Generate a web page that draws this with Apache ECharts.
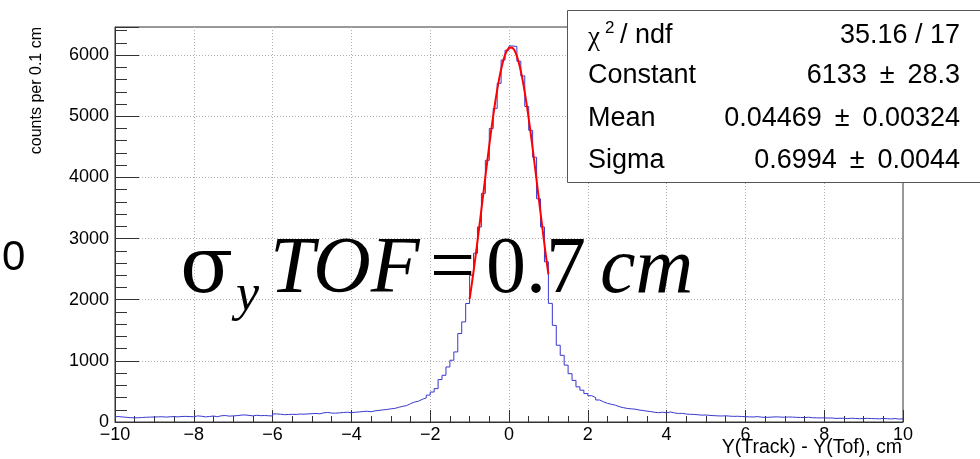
<!DOCTYPE html>
<html>
<head>
<meta charset="utf-8">
<script src="https://cdn.jsdelivr.net/npm/echarts@6/dist/echarts.min.js"></script>
<style>
  html, body { margin: 0; padding: 0; background: #ffffff; }
  #chart { width: 980px; height: 459px; }
</style>
</head>
<body>
<div id="chart"></div>
<script>
// Histogram of Y(Track) - Y(Tof): 200 bins of 0.1 cm between -10 and 10 cm
const xRange = [-10, 10];
const binWidth = 0.1;
const countsPerBin = [
  88, 82, 76, 70, 68, 70, 74, 78, 80, 82,            // -10 .. -9
  84, 86, 80, 86, 88, 84, 90, 92, 88, 86,            // -9 .. -8
  100, 94, 84, 90, 98, 86, 102, 106, 96, 100,        // -8 .. -7
  104, 112, 116, 108, 100, 110, 104, 106, 102, 98,   // -7 .. -6
  132, 128, 120, 122, 126, 124, 130, 128, 132, 136,  // -6 .. -5
  140, 134, 150, 156, 146, 144, 150, 156, 160, 152,  // -5 .. -4
  160, 165, 172, 176, 168, 182, 190, 198, 205, 215,  // -4 .. -3
  222, 240, 256, 268, 300, 326, 340, 372, 392, 440,  // -3 .. -2
  490, 546, 694, 764, 900, 1010, 1146, 1447, 1637, 1938,      // -2 .. -1
  2400, 2760, 3190, 3740, 4280, 4800, 5130, 5540, 5920, 6080, // -1 .. 0
  6150, 6140, 5900, 5660, 5160, 4770, 4330, 3650, 3190, 2620, // 0 .. 1
  1940, 1580, 1255, 1090, 930, 790, 680, 575, 520, 465,       // 1 .. 2
  430, 400, 360, 330, 305, 290, 275, 250, 235, 222,  // 2 .. 3
  215, 210, 196, 188, 178, 170, 158, 152, 160, 150,  // 3 .. 4
  164, 148, 140, 142, 130, 126, 124, 118, 112, 114,  // 4 .. 5
  108, 104, 100, 98, 102, 96, 92, 94, 90, 86,        // 5 .. 6
  84, 82, 88, 80, 76, 78, 82, 84, 80, 78,            // 6 .. 7
  82, 80, 76, 74, 72, 78, 70, 68, 66, 68,            // 7 .. 8
  64, 66, 58, 62, 60, 56, 62, 58, 54, 56,            // 8 .. 9
  60, 56, 54, 52, 58, 54, 50, 56, 48, 52             // 9 .. 10
];

// Gaussian fit result
const fitConstant = 6133;
const fitMean = 0.04469;
const fitSigma = 0.6994;
const fitRange = [-1.0, 1.0];

// Stats box rows (thin spaces widen the gaps around the ± sign)
const statNames = ['/ ndf', 'Constant', 'Mean', 'Sigma'];
const statValues = ['35.16 / 17', '6133 \u2009\u00b1\u2009 28.3', '0.04469 \u2009\u00b1\u2009 0.00324', '0.6994 \u2009\u00b1\u2009 0.0044'];

const yMax = 6460;
const xTickStep = 2;
const yTickStep = 1000;
const xTitle = 'Y(Track) - Y(Tof), cm';
const yTitle = 'counts per 0.1 cm';

// histogram outline: left edge of each bin, closed at the upper edge
const histPoints = countsPerBin.map((c, i) => [xRange[0] + i * binWidth, c]);
histPoints.push([xRange[1], countsPerBin[countsPerBin.length - 1]]);

// fitted Gaussian over the fit range
const fitPoints = [];
const nFit = 120;
for (let i = 0; i <= nFit; i++) {
  const x = fitRange[0] + (fitRange[1] - fitRange[0]) * i / nFit;
  const z = (x - fitMean) / fitSigma;
  fitPoints.push([x, fitConstant * Math.exp(-0.5 * z * z)]);
}

const axisColor = '#333333';
const sans = '"Liberation Sans", Arial, Helvetica, sans-serif';
const serif = '"Liberation Serif", "Times New Roman", serif';

const fmtNum = v => (v < 0 ? '\u2212' + Math.abs(v) : String(v));

const chart = echarts.init(document.getElementById('chart'), null, { renderer: 'canvas' });

// big annotation pieces are placed by their top edge
const annTop = 231;
const graphics = [
  // stray "0" at the left border
  { type: 'text', z: 10, style: { x: 2, y: 258, text: '0', fontSize: 42, fontFamily: sans, fill: '#000', verticalAlign: 'middle' } },
  // axis titles
  { type: 'text', z: 10, style: { x: 902, y: 448, text: xTitle, fontSize: 19.5, fontFamily: sans, fill: '#000', align: 'right', verticalAlign: 'middle' } },
  { type: 'text', z: 10, x: 37, y: 27, rotation: Math.PI / 2,
    style: { x: 0, y: 0, text: yTitle, fontSize: 16, fontFamily: sans, fill: '#000', align: 'right', verticalAlign: 'middle' } },
  // annotation sigma_y TOF = 0.7 cm
  { type: 'text', z: 10, style: { x: 180, y: annTop + 2, text: '\u03c3', fontSize: 78, fontFamily: '"DejaVu Serif", serif', fill: '#000', verticalAlign: 'top' } },
  { type: 'text', z: 10, style: { x: 236, y: 270, text: 'y', fontSize: 52, fontStyle: 'italic', fontFamily: serif, fill: '#000', verticalAlign: 'top' } },
  { type: 'text', z: 10, style: { x: 270, y: annTop, text: 'TOF', fontSize: 80, fontStyle: 'italic', fontFamily: serif, fill: '#000', verticalAlign: 'top' } },
  { type: 'text', z: 10, style: { x: 430, y: annTop, text: '=', fontSize: 80, fontFamily: serif, fill: '#000', verticalAlign: 'top' } },
  { type: 'text', z: 10, style: { x: 486, y: annTop, text: '0.7', fontSize: 80, fontFamily: serif, fill: '#000', verticalAlign: 'top' } },
  { type: 'text', z: 10, style: { x: 600, y: annTop, text: 'cm', fontSize: 80, fontStyle: 'italic', fontFamily: serif, fill: '#000', verticalAlign: 'top' } },
  // stats box
  { type: 'rect', z: 20, shape: { x: 567.5, y: 10.5, width: 430, height: 172 },
    style: { fill: '#ffffff', stroke: '#555555', lineWidth: 1 } },
  { type: 'text', z: 21, style: { x: 588, y: 38, text: '\u03c7', fontSize: 27, fontFamily: serif, fill: '#000', verticalAlign: 'middle' } },
  { type: 'text', z: 21, style: { x: 605, y: 28, text: '2', fontSize: 17, fontFamily: sans, fill: '#000', verticalAlign: 'middle' } },
  { type: 'text', z: 21, style: { x: 620, y: 36, text: statNames[0], fontSize: 27, fontFamily: sans, fill: '#000', verticalAlign: 'middle' } }
];
const rowY = [36, 76, 119, 161];
for (let r = 1; r < statNames.length; r++) {
  graphics.push({ type: 'text', z: 21, style: { x: 588, y: rowY[r], text: statNames[r], fontSize: 27, fontFamily: sans, fill: '#000', verticalAlign: 'middle' } });
}
for (let r = 0; r < statValues.length; r++) {
  graphics.push({ type: 'text', z: 21, style: { x: 960, y: rowY[r], text: statValues[r], fontSize: 27, fontFamily: sans, fill: '#000', align: 'right', verticalAlign: 'middle' } });
}

chart.setOption({
  animation: false,
  backgroundColor: '#ffffff',
  grid: { left: 115, right: 77, top: 27, bottom: 37, show: true, borderColor: axisColor, borderWidth: 1, backgroundColor: 'transparent' },
  xAxis: {
    type: 'value', min: xRange[0], max: xRange[1], interval: xTickStep,
    axisLine: { show: true, onZero: false, lineStyle: { color: axisColor } },
    axisTick: { show: true, inside: true, length: 12, lineStyle: { color: axisColor } },
    minorTick: { show: true, splitNumber: 4, length: 6, lineStyle: { color: axisColor } },
    axisLabel: { margin: 4, color: '#000', fontSize: 18, fontFamily: sans, formatter: fmtNum },
    splitLine: { show: true, showMinLine: false, showMaxLine: false, lineStyle: { color: '#b0b0b0', type: [1, 2], width: 1 } }
  },
  yAxis: {
    type: 'value', min: 0, max: yMax, interval: yTickStep,
    axisLine: { show: true, onZero: false, lineStyle: { color: axisColor } },
    axisTick: { show: true, inside: true, length: 24, lineStyle: { color: axisColor } },
    minorTick: { show: true, splitNumber: 5, length: 12, lineStyle: { color: axisColor } },
    axisLabel: { margin: 6, color: '#000', fontSize: 18, fontFamily: sans, formatter: fmtNum, showMaxLabel: false },
    splitLine: { show: true, showMinLine: false, showMaxLine: false, lineStyle: { color: '#b0b0b0', type: [1, 2], width: 1 } }
  },
  series: [
    { type: 'line', step: 'end', data: histPoints, symbol: 'none', z: 3,
      lineStyle: { color: '#3838d0', width: 1 } },
    { type: 'line', data: fitPoints, symbol: 'none', z: 4,
      lineStyle: { color: '#ff0000', width: 2 } }
  ],
  graphic: graphics
});
</script>
</body>
</html>
